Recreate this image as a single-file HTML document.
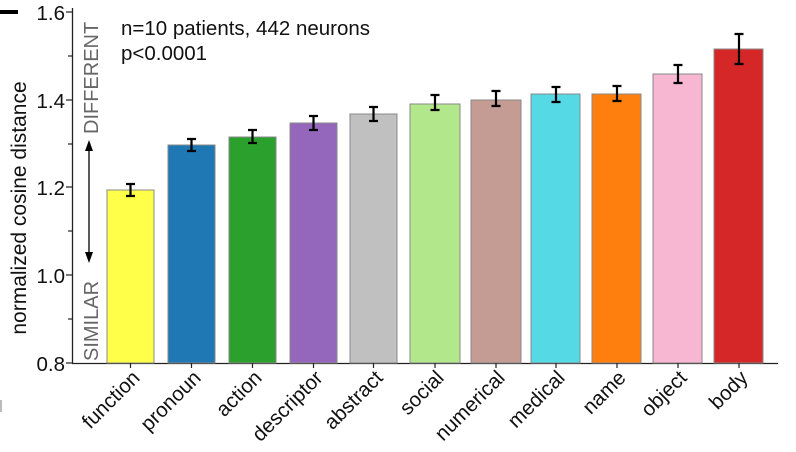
<!DOCTYPE html>
<html><head><meta charset="utf-8"><style>
html,body{margin:0;padding:0;background:#fff;}
svg{display:block;font-family:"Liberation Sans",Arial,sans-serif;}
</style></head><body>
<svg width="796" height="452" viewBox="0 0 796 452" xmlns="http://www.w3.org/2000/svg">
<rect x="0" y="10" width="18" height="4" fill="#000"/>
<rect x="0" y="400" width="2" height="12" fill="#bbb"/>
<line x1="72.5" y1="8" x2="72.5" y2="363.5" stroke="#222" stroke-width="1.3"/>
<line x1="72" y1="363.5" x2="778" y2="363.5" stroke="#222" stroke-width="1.3"/>
<g stroke="#222" stroke-width="1.2">
<line x1="66" y1="12" x2="72" y2="12"/><line x1="68" y1="56" x2="72" y2="56"/>
<line x1="66" y1="100" x2="72" y2="100"/><line x1="68" y1="144" x2="72" y2="144"/>
<line x1="66" y1="187" x2="72" y2="187"/><line x1="68" y1="231" x2="72" y2="231"/>
<line x1="66" y1="275" x2="72" y2="275"/><line x1="68" y1="319" x2="72" y2="319"/>
<line x1="66" y1="363" x2="72" y2="363"/>
</g>
<g font-size="20.5" fill="#111" text-anchor="end">
<text x="65" y="20">1.6</text><text x="65" y="108">1.4</text>
<text x="65" y="195">1.2</text><text x="65" y="283">1.0</text><text x="65" y="371">0.8</text>
</g>
<text transform="translate(26,208) rotate(-90)" font-size="21" fill="#111" text-anchor="middle">normalized cosine distance</text>
<text transform="translate(98,361) rotate(-90)" font-size="20" fill="#666">SIMILAR</text>
<text transform="translate(98,134) rotate(-90)" font-size="20" fill="#666">DIFFERENT</text>
<line x1="89" y1="145" x2="89" y2="258" stroke="#000" stroke-width="1.3"/>
<path d="M89,140 L85,151 L93,151 Z M89,263 L85,252 L93,252 Z" fill="#000"/>
<text x="121" y="35" font-size="20.5" fill="#111">n=10 patients, 442 neurons</text>
<text x="121" y="60" font-size="20.5" fill="#111">p&lt;0.0001</text>
<g stroke="#888" stroke-width="1">
<rect x="107" y="190" width="47" height="173" fill="#ffff4a"/>
<rect x="168" y="145" width="47" height="218" fill="#1f77b4"/>
<rect x="229" y="137" width="47" height="226" fill="#2ca02c"/>
<rect x="290" y="123" width="47" height="240" fill="#9467bd"/>
<rect x="350" y="114" width="47" height="249" fill="#c0c0c0"/>
<rect x="410" y="104" width="50" height="259" fill="#b2e78b"/>
<rect x="471" y="100" width="50" height="263" fill="#c49c94"/>
<rect x="531" y="94" width="49" height="269" fill="#55d9e5"/>
<rect x="592" y="94" width="49" height="269" fill="#ff7f0e"/>
<rect x="653" y="74" width="49" height="289" fill="#f7b6d2"/>
<rect x="714" y="49" width="49" height="314" fill="#d62728"/>
</g>
<g stroke="#000" stroke-width="2.2">
<path d="M130.5,184V196M126,184h9M126,196h9"/>
<path d="M191.5,139V151M187,139h9M187,151h9"/>
<path d="M252.5,130V143M248,130h9M248,143h9"/>
<path d="M313.5,116V130M309,116h9M309,130h9"/>
<path d="M373.5,107V121M369,107h9M369,121h9"/>
<path d="M435,95V110M430.5,95h9M430.5,110h9"/>
<path d="M496,91V106M491.5,91h9M491.5,106h9"/>
<path d="M556,87V102M551.5,87h9M551.5,102h9"/>
<path d="M617,86V101M612.5,86h9M612.5,101h9"/>
<path d="M678,65V83M673.5,65h9M673.5,83h9"/>
<path d="M739,34V64M734.5,34h9M734.5,64h9"/>
</g>
<g stroke="#222" stroke-width="1.2">
<line x1="130.5" y1="363" x2="130.5" y2="368"/><line x1="191.5" y1="363" x2="191.5" y2="368"/>
<line x1="252.5" y1="363" x2="252.5" y2="368"/><line x1="313.5" y1="363" x2="313.5" y2="368"/>
<line x1="373.5" y1="363" x2="373.5" y2="368"/><line x1="435" y1="363" x2="435" y2="368"/>
<line x1="496" y1="363" x2="496" y2="368"/><line x1="556" y1="363" x2="556" y2="368"/>
<line x1="617" y1="363" x2="617" y2="368"/><line x1="678" y1="363" x2="678" y2="368"/>
<line x1="739" y1="363" x2="739" y2="368"/>
</g>
<g font-size="20.5" fill="#111" text-anchor="end">
<text transform="translate(141,379) rotate(-45)">function</text>
<text transform="translate(202,379) rotate(-45)">pronoun</text>
<text transform="translate(263,379) rotate(-45)">action</text>
<text transform="translate(324,379) rotate(-45)">descriptor</text>
<text transform="translate(384,379) rotate(-45)">abstract</text>
<text transform="translate(445,379) rotate(-45)">social</text>
<text transform="translate(506,379) rotate(-45)">numerical</text>
<text transform="translate(566,379) rotate(-45)">medical</text>
<text transform="translate(627,379) rotate(-45)">name</text>
<text transform="translate(688,379) rotate(-45)">object</text>
<text transform="translate(749,379) rotate(-45)">body</text>
</g>
</svg>
</body></html>
